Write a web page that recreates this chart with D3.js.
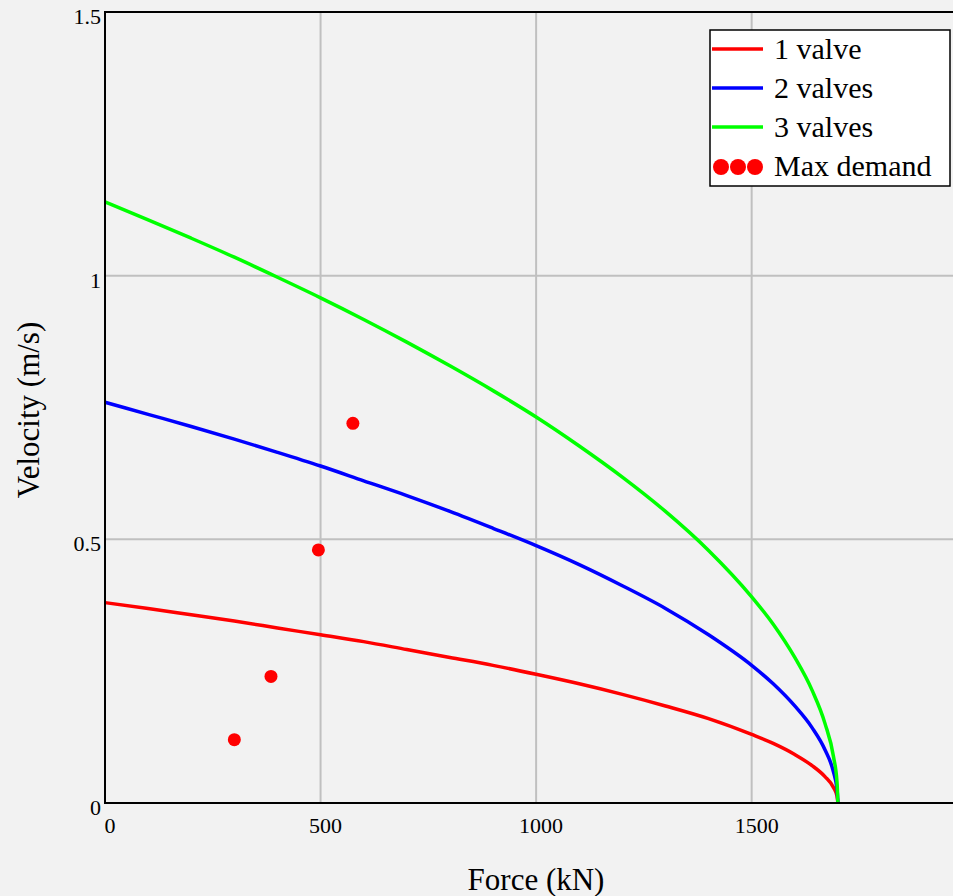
<!DOCTYPE html>
<html>
<head>
<meta charset="utf-8">
<script src="https://cdn.jsdelivr.net/npm/d3@7"></script>
<style>
  body { margin: 0; background: #f2f2f2; }
  svg { display: block; font-family: "Liberation Serif", "DejaVu Serif", serif; }
</style>
</head>
<body>
<svg id="chart"></svg>
<script>
// force values (kN) where the curves were read
var force = [0,100,200,300,400,500,600,700,800,900,1000,1100,1200,1300,1400,1500,1550,1600,1640,1670,1690,1698,1700];
var oneValve   = [0.380,0.369,0.357,0.345,0.332,0.319,0.306,0.291,0.276,0.261,0.244,0.226,0.206,0.184,0.160,0.130,0.113,0.092,0.071,0.050,0.029,0.013,0];
var twoValves  = [0.760,0.737,0.714,0.690,0.665,0.639,0.611,0.583,0.553,0.521,0.488,0.452,0.412,0.369,0.319,0.261,0.226,0.184,0.143,0.101,0.058,0.026,0];
var threeValves= [1.140,1.106,1.071,1.035,0.997,0.958,0.917,0.874,0.829,0.782,0.732,0.677,0.618,0.553,0.479,0.391,0.339,0.276,0.214,0.151,0.087,0.039,0];
var demandForce = [300,385,495,575];
var demandVel   = [0.12,0.24,0.48,0.72];
var xTicks = [0,500,1000,1500];
var yTicks = [0,0.5,1,1.5];
var seriesNames = ["1 valve","2 valves","3 valves"];
var colorArr = ["#ff0000","#0000ff","#00ff00"];

drawChart("#chart");

function drawChart(id){
	var svgWidth = 953, svgHeight = 896;
	var left = 105, right = 953, top = 12, bottom = 803;

	var svg = d3.select(id).attr("width", svgWidth).attr("height", svgHeight);

	var x = d3.scaleLinear().domain([0,1967]).range([left,right]);
	var y = d3.scaleLinear().domain([0,1.5]).range([bottom,top]);

	// grid
	svg.append("g").selectAll("line").data(xTicks.slice(1)).enter().append("line")
	   .attr("x1",function(d){return x(d);}).attr("x2",function(d){return x(d);})
	   .attr("y1",top).attr("y2",bottom)
	   .attr("stroke","#c0c0c0").attr("stroke-width",2);
	svg.append("g").selectAll("line").data(yTicks.slice(1,3)).enter().append("line")
	   .attr("y1",function(d){return y(d);}).attr("y2",function(d){return y(d);})
	   .attr("x1",left).attr("x2",right)
	   .attr("stroke","#c0c0c0").attr("stroke-width",2);

	// curves
	var allSeries = [oneValve,twoValves,threeValves];
	var line = d3.line()
	   .x(function(d,i){return x(force[i]);})
	   .y(function(d){return y(d);})
	   .curve(d3.curveMonotoneX);
	svg.append("g").selectAll("path").data(allSeries).enter().append("path")
	   .attr("d",line)
	   .attr("fill","none")
	   .attr("stroke",function(d,i){return colorArr[i];})
	   .attr("stroke-width",3.5);

	// demand points
	svg.append("g").selectAll("circle").data(demandForce).enter().append("circle")
	   .attr("cx",function(d){return x(d);})
	   .attr("cy",function(d,i){return y(demandVel[i]);})
	   .attr("r",6.5)
	   .attr("fill","#ff0000");

	// frame
	svg.append("path")
	   .attr("d","M"+right+","+top+"H"+left+"V"+bottom+"H"+right)
	   .attr("fill","none").attr("stroke","#000").attr("stroke-width",2);

	// tick labels
	svg.append("g").selectAll("text").data(xTicks).enter().append("text")
	   .attr("x",function(d){return x(d)+5;})
	   .attr("y",833)
	   .attr("text-anchor","middle")
	   .attr("font-size","22px")
	   .text(function(d){return d;});
	svg.append("g").selectAll("text").data(yTicks).enter().append("text")
	   .attr("x",left-4)
	   .attr("y",function(d){return y(d)+12;})
	   .attr("text-anchor","end")
	   .attr("font-size","22px")
	   .text(function(d){return d;});

	// axis titles
	svg.append("text").attr("x",536).attr("y",890)
	   .attr("text-anchor","middle").attr("font-size","31px")
	   .text("Force (kN)");
	svg.append("text")
	   .attr("transform","translate(39,410) rotate(-90)")
	   .attr("text-anchor","middle").attr("font-size","31px")
	   .text("Velocity (m/s)");

	// legend
	var lg = svg.append("g");
	lg.append("rect").attr("x",710).attr("y",30).attr("width",240).attr("height",156)
	  .attr("fill","#ffffff").attr("stroke","#000").attr("stroke-width",1.5);
	lg.selectAll("line").data(seriesNames).enter().append("line")
	  .attr("x1",712).attr("x2",763)
	  .attr("y1",function(d,i){return 49+i*39;})
	  .attr("y2",function(d,i){return 49+i*39;})
	  .attr("stroke",function(d,i){return colorArr[i];})
	  .attr("stroke-width",3.5);
	lg.selectAll("circle").data([721,738,755]).enter().append("circle")
	  .attr("cx",function(d){return d;}).attr("cy",167).attr("r",8)
	  .attr("fill","#ff0000");
	lg.selectAll("text").data(seriesNames.concat(["Max demand"])).enter().append("text")
	  .attr("x",774)
	  .attr("y",function(d,i){return 59+i*39;})
	  .attr("font-size","30px")
	  .text(function(d){return d;});
}
</script>
</body>
</html>
